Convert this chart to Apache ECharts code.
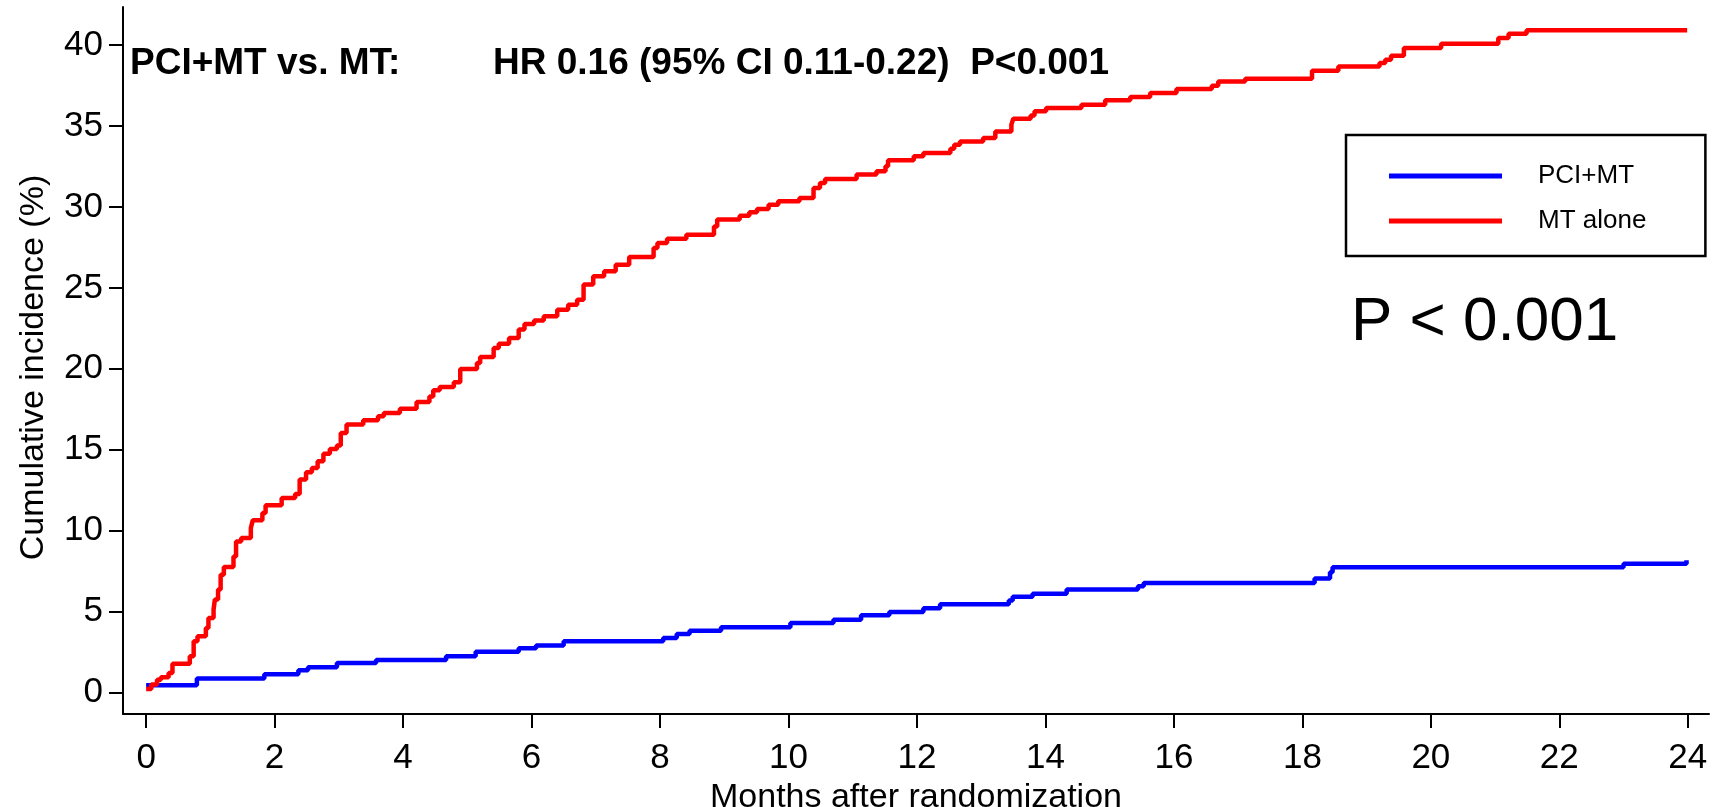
<!DOCTYPE html>
<html>
<head>
<meta charset="utf-8">
<script src="https://cdn.jsdelivr.net/npm/echarts@6/dist/echarts.min.js"></script>
<style>
  html, body { margin: 0; padding: 0; background: #ffffff; }
  #chart { width: 1726px; height: 807px; }
</style>
</head>
<body>
<div id="chart"></div>
<script>
// Cumulative incidence step curves (months after randomization, %)
const pciMonths = [0, 0.79, 1.84, 2.37, 2.52, 2.97, 3.58, 4.67, 5.13, 5.80, 6.07, 6.50,
  8.05, 8.26, 8.46, 8.95, 10.03, 10.70, 11.13, 11.57, 12.10, 12.36, 13.43, 13.49, 13.80,
  14.33, 15.44, 15.53, 18.19, 18.43, 18.47, 23.00, 23.98];
const pciRisk = [0.43, 0.85, 1.11, 1.36, 1.55, 1.82, 2.00, 2.23, 2.50, 2.72, 2.90, 3.15,
  3.36, 3.60, 3.81, 4.02, 4.29, 4.49, 4.76, 4.97, 5.19, 5.44, 5.67, 5.90, 6.10,
  6.35, 6.55, 6.76, 7.03, 7.42, 7.73, 7.95, 8.16];

const mtMonths = [0, 0.08, 0.17, 0.23, 0.35, 0.41, 0.68, 0.74, 0.80, 0.93, 0.97,
  1.05, 1.07, 1.12, 1.16, 1.21, 1.36, 1.40, 1.48, 1.63, 1.66, 1.81, 1.86, 2.11, 2.32, 2.39,
  2.49, 2.58, 2.67, 2.76, 2.86, 2.97, 3.03, 3.12, 3.38, 3.61, 3.70, 3.95, 4.21, 4.41, 4.47,
  4.57, 4.79, 4.89, 5.15, 5.20, 5.41, 5.49, 5.65, 5.80, 5.89, 6.04, 6.19, 6.40, 6.57, 6.71,
  6.81, 6.96, 7.13, 7.31, 7.52, 7.90, 7.96, 8.11, 8.41, 8.84, 8.89, 9.24, 9.39, 9.51, 9.69,
  9.84, 10.17, 10.39, 10.49, 10.57, 11.06, 11.37, 11.51, 11.55, 11.95, 12.10, 12.52, 12.58,
  12.67, 13.03, 13.22, 13.47, 13.50, 13.77, 13.83, 14.01, 14.56, 14.93, 15.32, 15.63, 16.04,
  16.59, 16.69, 17.11, 18.15, 18.56, 19.20, 19.29, 19.38, 19.58, 20.16, 21.05, 21.21, 21.49,
  23.99];
const mtRisk = [0.21, 0.48, 0.78, 0.93, 1.20, 1.77, 2.23, 3.15, 3.46, 3.98, 4.60,
  5.11, 5.73, 6.35, 7.27, 7.75, 8.40, 9.33, 9.54, 10.16, 10.63, 11.09, 11.56, 12.01, 12.26, 13.15,
  13.60, 13.87, 14.28, 14.75, 15.04, 15.25, 16.03, 16.55, 16.81, 17.06, 17.27, 17.53, 17.95, 18.29, 18.67,
  18.87, 19.16, 19.99, 20.36, 20.73, 21.28, 21.55, 21.90, 22.42, 22.77, 22.99, 23.24, 23.65, 23.96, 24.27,
  25.20, 25.71, 26.02, 26.43, 26.91, 27.46, 27.77, 28.04, 28.29, 28.80, 29.22, 29.46, 29.67, 29.88, 30.14,
  30.35, 30.56, 31.17, 31.48, 31.73, 32.00, 32.20, 32.51, 32.88, 33.13, 33.34, 33.60, 33.85,
  34.05, 34.26, 34.67, 35.09, 35.46, 35.66, 35.91, 36.12, 36.32, 36.59, 36.80, 37.05, 37.29,
  37.50, 37.76, 37.93, 38.42, 38.69, 38.90, 39.10, 39.35, 39.82, 40.09, 40.44, 40.71, 40.92,
  40.92];

const seriesNames = ['PCI+MT', 'MT alone'];
const xTicks = [0, 2, 4, 6, 8, 10, 12, 14, 16, 18, 20, 22, 24];
const yTicks = [0, 5, 10, 15, 20, 25, 30, 35, 40];

const headline = 'PCI+MT vs. MT:';
const hrText = 'HR 0.16 (95% CI 0.11-0.22)  P<0.001';
const pText = 'P < 0.001';

const FONT = '"Liberation Sans", Arial, Helvetica, sans-serif';

function zip(xs, ys) { return xs.map((x, i) => [x, ys[i]]); }

const chart = echarts.init(document.getElementById('chart'), null, { renderer: 'canvas' });

const axisLine = { show: true, onZero: false, lineStyle: { color: '#000', width: 2 } };
const axisTick = { show: true, inside: false, length: 14, lineStyle: { color: '#000', width: 2 } };

chart.setOption({
  backgroundColor: '#ffffff',
  animation: false,
  grid: { left: 123, right: 17, top: 7, bottom: 93, containLabel: false, outerBoundsMode: 'none' },
  xAxis: {
    type: 'value',
    min: -0.36,
    max: 24.33,
    axisLine: axisLine,
    axisTick: Object.assign({ customValues: xTicks }, axisTick),
    axisLabel: { customValues: xTicks, margin: 27, color: '#000', fontSize: 35, fontFamily: FONT },
    splitLine: { show: false },
    name: 'Months after randomization',
    nameLocation: 'middle',
    nameGap: 60,
    nameTextStyle: { color: '#000', fontSize: 34, fontFamily: FONT }
  },
  yAxis: {
    type: 'value',
    min: -1.34,
    max: 42.36,
    axisLine: axisLine,
    axisTick: Object.assign({ customValues: yTicks }, axisTick),
    axisLabel: { customValues: yTicks, margin: 20, color: '#000', fontSize: 35, fontFamily: FONT },
    splitLine: { show: false },
    name: 'Cumulative incidence (%)',
    nameLocation: 'middle',
    nameRotate: 90,
    nameGap: 72,
    nameTextStyle: { color: '#000', fontSize: 34, fontFamily: FONT, padding: [0, 14, 0, 0] }
  },
  legend: {
    orient: 'vertical',
    left: 1346,
    top: 135,
    padding: [26, 59, 20, 43],
    itemGap: 15,
    itemWidth: 113,
    itemHeight: 5,
    icon: 'rect',
    borderColor: '#000',
    borderWidth: 2.5,
    backgroundColor: '#fff',
    data: seriesNames,
    textStyle: { color: '#000', fontSize: 26, lineHeight: 30, fontFamily: FONT, padding: [0, 0, 0, 31] }
  },
  graphic: [
    {
      type: 'text',
      style: { x: 130, y: 63.5, text: headline, fill: '#000', fontSize: 37, fontWeight: 'bold',
        fontFamily: FONT, align: 'left', verticalAlign: 'middle' }
    },
    {
      type: 'text',
      style: { x: 493, y: 63.5, text: hrText, fill: '#000', fontSize: 37, fontWeight: 'bold',
        fontFamily: FONT, align: 'left', verticalAlign: 'middle' }
    },
    {
      type: 'text',
      style: { x: 1351, y: 323, text: pText, fill: '#000', fontSize: 62,
        fontFamily: FONT, align: 'left', verticalAlign: 'middle' }
    }
  ],
  series: [
    {
      name: seriesNames[0],
      type: 'line',
      step: 'end',
      data: zip(pciMonths, pciRisk),
      showSymbol: false,
      color: '#0000ff',
      lineStyle: { color: '#0000ff', width: 4.5 },
      z: 3
    },
    {
      name: seriesNames[1],
      type: 'line',
      step: 'end',
      data: zip(mtMonths, mtRisk),
      showSymbol: false,
      color: '#ff0000',
      lineStyle: { color: '#ff0000', width: 4.5 },
      z: 4
    }
  ]
});
</script>
</body>
</html>
